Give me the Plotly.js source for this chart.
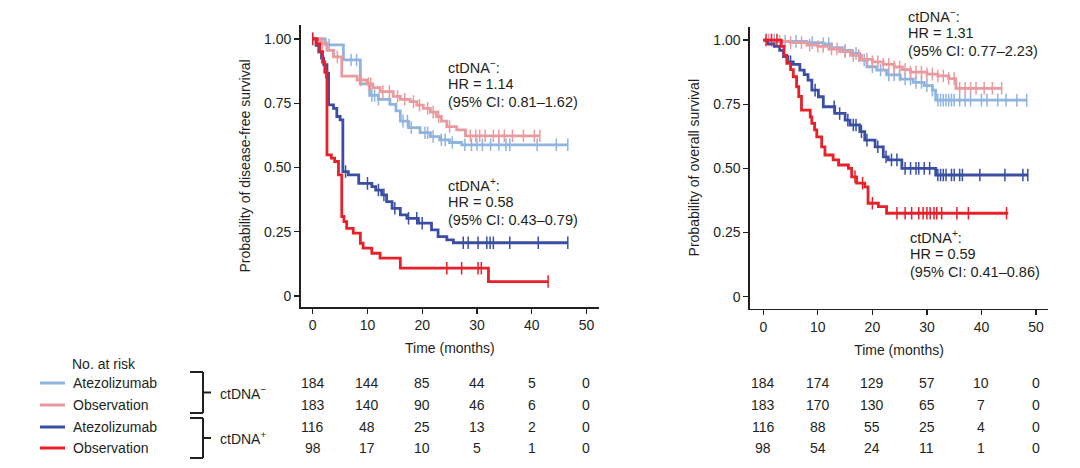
<!DOCTYPE html>
<html>
<head>
<meta charset="utf-8">
<script src="https://cdn.plot.ly/plotly-3.0.1.min.js"></script>
<style>html,body{margin:0;padding:0;background:#fff}#chart{width:1080px;height:468px}</style>
</head>
<body>
<div id="chart"></div>
<script>
// ---------------- DATA ----------------
// Disease-free survival (left panel)
const dfsNegAtezoT = [0, 2.3, 5.6, 8.7, 10.4, 12.0, 14.1, 15.2, 16.0, 17.5, 19.6, 21.5, 23.2, 25.0, 27.2, 46.6];
const dfsNegAtezoS = [1, 0.977, 0.918, 0.825, 0.78, 0.765, 0.745, 0.72, 0.68, 0.655, 0.635, 0.62, 0.607, 0.597, 0.588, 0.588];
const dfsNegAtezoCens = [3.0, 7.0, 8.0, 10.8, 11.3, 12.0, 16.5, 17.3, 18.0, 20.5, 21.0, 22.0, 23.5, 24.2, 25.5, 27.8, 29.0, 30.0, 31.0, 32.5, 34.0, 35.3, 36.0, 41.0, 44.5, 46.6];

const dfsNegObsT = [0, 1.4, 2.6, 3.8, 5.3, 8.1, 9.9, 11.0, 12.3, 14.7, 16.0, 17.8, 19.0, 20.2, 21.5, 22.6, 23.5, 24.5, 26.3, 27.9, 41.5];
const dfsNegObsS = [1, 0.983, 0.955, 0.93, 0.855, 0.84, 0.825, 0.81, 0.795, 0.776, 0.765, 0.756, 0.742, 0.73, 0.715, 0.698, 0.68, 0.659, 0.646, 0.623, 0.623];
const dfsNegObsCens = [0, 1.8, 4.5, 8.8, 10.2, 10.6, 12.8, 14.0, 15.5, 16.8, 18.4, 19.5, 21.0, 22.0, 23.0, 25.0, 28.8, 29.8, 30.5, 31.5, 33.0, 34.0, 35.0, 36.5, 38.5, 40.5, 41.5];

const dfsPosAtezoT = [0, 0.6, 1.1, 1.6, 2.0, 2.6, 2.9, 3.8, 4.4, 5.0, 5.5, 6.5, 8.4, 10.8, 11.5, 12.6, 13.5, 14.5, 16.0, 17.2, 19.3, 21.7, 22.9, 24.5, 25.7, 46.6];
const dfsPosAtezoS = [1, 0.975, 0.95, 0.925, 0.9, 0.866, 0.743, 0.73, 0.698, 0.685, 0.484, 0.471, 0.438, 0.425, 0.412, 0.393, 0.367, 0.341, 0.315, 0.302, 0.283, 0.257, 0.231, 0.218, 0.207, 0.207];
const dfsPosAtezoCens = [6.0, 10.0, 12.0, 13.0, 15.0, 17.5, 19.0, 20.0, 27.5, 28.4, 30.2, 31.8, 32.4, 33.0, 36.0, 41.2, 46.6];

const dfsPosObsT = [0, 0.8, 1.3, 1.8, 2.2, 2.6, 3.4, 4.0, 4.7, 5.3, 5.7, 6.2, 7.4, 8.7, 9.2, 10.8, 12.3, 16.0, 32.1, 43.0];
const dfsPosObsS = [1, 0.98, 0.95, 0.91, 0.87, 0.549, 0.536, 0.523, 0.471, 0.309, 0.289, 0.263, 0.244, 0.205, 0.186, 0.166, 0.147, 0.108, 0.056, 0.056];
const dfsPosObsCens = [0, 2.4, 24.5, 27.2, 30.2, 30.8, 43.0];

// Overall survival (right panel)
const osNegAtezoT = [0, 3, 8, 11, 12.5, 14.5, 16.2, 17.7, 19.0, 20.8, 22.6, 25.1, 27.5, 29.5, 31.0, 31.6, 48.3];
const osNegAtezoS = [1, 0.995, 0.99, 0.985, 0.97, 0.96, 0.948, 0.922, 0.896, 0.883, 0.864, 0.848, 0.835, 0.822, 0.805, 0.766, 0.766];
const osNegAtezoCens = [2, 4, 6, 9, 11, 12, 15, 17, 18.5, 20, 21.5, 23, 24, 25, 26, 27, 28, 29, 30, 31, 32, 32.5, 33, 33.5, 34, 34.5, 35, 36, 37, 38, 40, 41, 43, 44.5, 46.5, 48.3];

const osNegObsT = [0, 2, 5, 8, 10, 12, 14, 16, 18, 20, 22, 24, 25.5, 27, 30, 32, 34, 35.3, 43.7];
const osNegObsS = [1, 0.995, 0.99, 0.98, 0.975, 0.965, 0.955, 0.94, 0.925, 0.915, 0.905, 0.895, 0.885, 0.875, 0.867, 0.86, 0.85, 0.812, 0.812];
const osNegObsCens = [1, 3, 5, 7, 8.5, 10, 11, 12.5, 13.5, 15, 16.5, 17.5, 19, 20, 21, 22, 23, 24, 25, 26, 27, 28, 29, 30, 31, 32, 33, 34, 35, 36, 37, 38, 39, 40.5, 42, 43.7];

const osPosAtezoT = [0, 0.8, 2.0, 3.0, 3.7, 4.5, 5.5, 6.7, 7.5, 8.2, 8.9, 10.1, 11.0, 13.1, 15.0, 15.9, 17.7, 18.6, 20.5, 22.0, 22.9, 25.4, 31.6, 48.5];
const osPosAtezoS = [1, 0.985, 0.975, 0.96, 0.935, 0.915, 0.905, 0.883, 0.865, 0.844, 0.805, 0.779, 0.74, 0.714, 0.688, 0.669, 0.643, 0.61, 0.584, 0.545, 0.533, 0.5, 0.474, 0.474];
const osPosAtezoCens = [5, 9.5, 13, 14, 15.5, 16.5, 17, 18, 19, 21, 22.5, 23.5, 24.5, 26, 27, 28, 28.5, 29.5, 30.5, 32, 32.5, 33, 33.5, 34.5, 35, 36, 36.5, 39.7, 44.3, 47.6, 48.5];

const osPosObsT = [0, 3.3, 3.8, 4.3, 5.0, 5.5, 6.1, 6.5, 7.0, 8.6, 8.9, 9.4, 9.8, 10.7, 11.3, 12.8, 13.8, 15.6, 16.2, 17.1, 18.6, 19.2, 21.1, 22.6, 44.9];
const osPosObsS = [1, 0.975, 0.94, 0.909, 0.885, 0.857, 0.818, 0.78, 0.727, 0.70, 0.675, 0.65, 0.623, 0.584, 0.552, 0.533, 0.513, 0.5, 0.467, 0.442, 0.428, 0.364, 0.351, 0.325, 0.325];
const osPosObsCens = [0.5, 1.5, 2.5, 16.8, 18.2, 20.0, 24.5, 26, 27.2, 28.5, 29.3, 30, 30.6, 31.3, 31.8, 32.7, 35.5, 37.6, 44.6];

// Risk table
const riskTimes = [0, 10, 20, 30, 40, 50];
const groupLabels = ["Atezolizumab", "Observation", "Atezolizumab", "Observation"];
const dfsRisk = [[184, 144, 85, 44, 5, 0], [183, 140, 90, 46, 6, 0], [116, 48, 25, 13, 2, 0], [98, 17, 10, 5, 1, 0]];
const osRisk = [[184, 174, 129, 57, 10, 0], [183, 170, 130, 65, 7, 0], [116, 88, 55, 25, 4, 0], [98, 54, 24, 11, 1, 0]];
const yTickVals = [0, 0.25, 0.5, 0.75, 1];
const yTickText = ["0", "0.25", "0.50", "0.75", "1.00"];

// HR annotation lines
const dfsNegNote = ["ctDNA<sup>−</sup>:", "HR = 1.14", "(95% CI: 0.81–1.62)"];
const dfsPosNote = ["ctDNA<sup>+</sup>:", "HR = 0.58", "(95% CI: 0.43–0.79)"];
const osNegNote = ["ctDNA<sup>−</sup>:", "HR = 1.31", "(95% CI: 0.77–2.23)"];
const osPosNote = ["ctDNA<sup>+</sup>:", "HR = 0.59", "(95% CI: 0.41–0.86)"];

// ---------------- STYLE ----------------
const colors = ["#8fb4e0", "#e89a9e", "#3a4fa3", "#e8202a"];
const FONT = "Liberation Sans, Arial, Helvetica, sans-serif";
const TXT = "#231f20";
const FS = 14;
const W = 1080, H = 468;
const px = v => v / W;
const py = v => 1 - v / H;

function stepAt(T, S, c) {
  let v = S[0];
  for (let i = 0; i < T.length; i++) { if (T[i] <= c) v = S[i]; }
  return v;
}

const traces = [];
function addCurve(T, S, cens, color, xa, ya) {
  traces.push({x: T, y: S, type: 'scatter', mode: 'lines', line: {shape: 'hv', color: color, width: 2.8},
    xaxis: xa, yaxis: ya, hoverinfo: 'skip', showlegend: false});
  traces.push({x: cens, y: cens.map(c => stepAt(T, S, c)), type: 'scatter', mode: 'markers',
    marker: {symbol: 'line-ns-open', size: 9, color: color, line: {color: color, width: 1.5}},
    xaxis: xa, yaxis: ya, hoverinfo: 'skip', showlegend: false});
}
addCurve(dfsNegAtezoT, dfsNegAtezoS, dfsNegAtezoCens, colors[0], 'x', 'y');
addCurve(dfsNegObsT, dfsNegObsS, dfsNegObsCens, colors[1], 'x', 'y');
addCurve(dfsPosAtezoT, dfsPosAtezoS, dfsPosAtezoCens, colors[2], 'x', 'y');
addCurve(dfsPosObsT, dfsPosObsS, dfsPosObsCens, colors[3], 'x', 'y');
addCurve(osNegAtezoT, osNegAtezoS, osNegAtezoCens, colors[0], 'x2', 'y2');
addCurve(osNegObsT, osNegObsS, osNegObsCens, colors[1], 'x2', 'y2');
addCurve(osPosAtezoT, osPosAtezoS, osPosAtezoCens, colors[2], 'x2', 'y2');
addCurve(osPosObsT, osPosObsS, osPosObsCens, colors[3], 'x2', 'y2');

function xAxis(domain, range, anchor) {
  return {domain: domain, range: range, anchor: anchor, tickvals: riskTimes, ticks: 'outside', ticklen: 5, tickwidth: 1.3,
    tickcolor: TXT, showline: true, linewidth: 1.6, linecolor: TXT, showgrid: false, zeroline: false,
    tickfont: {family: FONT, size: FS, color: TXT}, automargin: false,
    title: {text: 'Time (months)', font: {family: FONT, size: FS, color: TXT}, standoff: 11}};
}
function yAxis(domain, range, anchor, title) {
  return {domain: domain, range: range, anchor: anchor, tickvals: yTickVals, ticktext: yTickText, ticks: 'outside', ticklen: 5,
    tickwidth: 1.3, tickcolor: TXT, showline: true, linewidth: 1.6, linecolor: TXT, showgrid: false, zeroline: false,
    tickfont: {family: FONT, size: FS, color: TXT}, automargin: false,
    title: {text: title, font: {family: FONT, size: FS, color: TXT}, standoff: 10}};
}

const annotations = [];
const shapes = [];
function note(x, yFirst, lines) {
  lines.forEach((ln, i) => {
    annotations.push({xref: 'paper', yref: 'paper', x: px(x), y: py(yFirst + i * 17.3), text: ln, showarrow: false,
      xanchor: 'left', yanchor: 'middle', align: 'left', font: {family: FONT, size: 14.5, color: TXT}});
  });
}
note(446, 67, dfsNegNote);
note(446, 185, dfsPosNote);
note(906, 16, osNegNote);
note(908, 237, osPosNote);

// risk table
const rowY = [383, 405, 427, 448];
annotations.push({xref: 'paper', yref: 'paper', x: px(70), y: py(364), text: 'No. at risk', showarrow: false,
  xanchor: 'left', yanchor: 'middle', font: {family: FONT, size: FS, color: TXT}});
groupLabels.forEach((lab, i) => {
  annotations.push({xref: 'paper', yref: 'paper', x: px(71), y: py(rowY[i]), text: lab, showarrow: false,
    xanchor: 'left', yanchor: 'middle', font: {family: FONT, size: FS, color: TXT}});
  shapes.push({type: 'line', xref: 'paper', yref: 'paper', x0: px(40), x1: px(65), y0: py(rowY[i]), y1: py(rowY[i]),
    line: {color: colors[i], width: 3}});
  riskTimes.forEach((t, j) => {
    annotations.push({xref: 'x', yref: 'paper', x: t, y: py(rowY[i]), text: String(dfsRisk[i][j]), showarrow: false,
      xanchor: 'center', yanchor: 'middle', font: {family: FONT, size: FS, color: TXT}});
    annotations.push({xref: 'x2', yref: 'paper', x: t, y: py(rowY[i]), text: String(osRisk[i][j]), showarrow: false,
      xanchor: 'center', yanchor: 'middle', font: {family: FONT, size: FS, color: TXT}});
  });
});
// brackets
function bracket(top, bot, label) {
  const bl = {color: TXT, width: 2};
  shapes.push({type: 'line', xref: 'paper', yref: 'paper', x0: px(203), x1: px(203), y0: py(top), y1: py(bot), line: bl});
  shapes.push({type: 'line', xref: 'paper', yref: 'paper', x0: px(190), x1: px(203), y0: py(top), y1: py(top), line: bl});
  shapes.push({type: 'line', xref: 'paper', yref: 'paper', x0: px(190), x1: px(203), y0: py(bot), y1: py(bot), line: bl});
  const mid = (top + bot) / 2;
  shapes.push({type: 'line', xref: 'paper', yref: 'paper', x0: px(203), x1: px(211), y0: py(mid), y1: py(mid), line: bl});
  annotations.push({xref: 'paper', yref: 'paper', x: px(218), y: py(mid), text: label, showarrow: false,
    xanchor: 'left', yanchor: 'middle', font: {family: FONT, size: FS, color: TXT}});
}
bracket(372, 413, "ctDNA<sup>−</sup>");
bracket(418, 458, "ctDNA<sup>+</sup>");

const layout = {
  width: W, height: H, margin: {l: 0, r: 0, t: 0, b: 0}, paper_bgcolor: '#fff', plot_bgcolor: '#fff',
  showlegend: false, font: {family: FONT, color: TXT},
  xaxis: xAxis([300.7 / W, 599 / W], [-2.2, 52.3], 'y'),
  yaxis: yAxis([(H - 307) / H, (H - 25) / H], [-0.043, 1.054], 'x', 'Probability of disease-free survival'),
  xaxis2: xAxis([750 / W, 1048 / W], [-2.44, 52.2], 'y2'),
  yaxis2: yAxis([(H - 308.7) / H, (H - 26.7) / H], [-0.047, 1.052], 'x2', 'Probability of overall survival'),
  annotations: annotations, shapes: shapes
};
Plotly.newPlot('chart', traces, layout, {displayModeBar: false, staticPlot: true});
</script>
</body>
</html>
